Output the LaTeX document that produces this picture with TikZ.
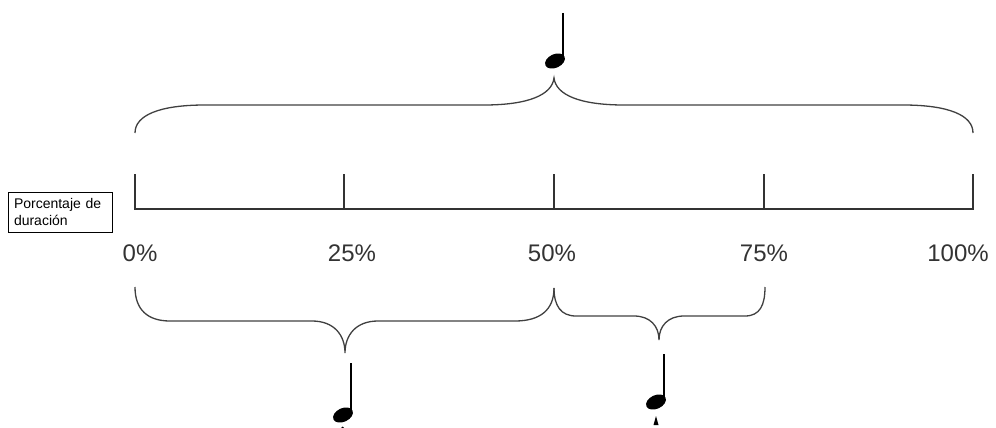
\documentclass[tikz,border=0pt]{standalone}
\usepackage{fontspec}
\setmainfont{Liberation Sans}
\begin{document}
\begin{tikzpicture}[x=1pt,y=-1pt,
    line/.style={black!80,line width=1.4pt},
    brace/.style={black!75,line width=1.3pt},
    pct/.style={text=black!80,font=\fontsize{24}{28}\selectfont,inner sep=0pt}]
  \useasboundingbox (0,0) rectangle (996,428);

  \node (caja) [draw,line width=1pt,minimum width=104pt,minimum height=40pt,
      text width=92pt,align=left,inner sep=0pt,font=\fontsize{14}{17}\selectfont]
      at (60,212) {Porcentaje de\\duración};

  % eje de duracion
  \draw [line] (135,209) -- (973,209);
  \foreach \x/\n in {135/0,344/25,554/50,764/75,973/100} {
      \draw [line] (\x,174) coordinate (t\n) -- (\x,210);
  }
  \foreach \x/\n in {140/0,352/25,552/50,764/75,958/100} {
      \node (l\n) [pct] at (\x,253) {\n\%};
  }

  % llaves
  \draw [brace] (135,133) .. controls (135,115) and (160,105) .. (205,105) -- (484,105)
      .. controls (528,105) and (552,95) .. (554,78)
      .. controls (556,95) and (580,105) .. (624,105) -- (903,105)
      .. controls (948,105) and (973,115) .. (973,133);
  \draw [brace] (135,287) .. controls (135,310) and (148,321) .. (170,321) -- (312,321)
      .. controls (334,321) and (345,335) .. (345,353)
      .. controls (345,335) and (356,321) .. (378,321) -- (515,321)
      .. controls (540,321) and (554,310) .. (554,288);
  \draw [brace] (554,288) .. controls (554,306) and (561,316) .. (576,316) -- (634,316)
      .. controls (650,316) and (659,326) .. (659,340)
      .. controls (659,326) and (668,316) .. (684,316) -- (745,316)
      .. controls (760,316) and (765,305) .. (765,287);

  % negras
  \foreach \x/\y/\h in {563/13/47,351/363/51,664/354/47} {
      \draw [line width=1.8pt] (\x,\y) -- (\x,\y+\h);
      \fill [shift={(\x-8,\y+\h+1)},rotate=25] (0,0) ellipse [x radius=10.5,y radius=6.8];
  }
  \fill (342.5,428) circle (1.5);
  \fill (656,416) -- (658.5,425) -- (653.5,425) -- cycle;
\end{tikzpicture}
\end{document}
